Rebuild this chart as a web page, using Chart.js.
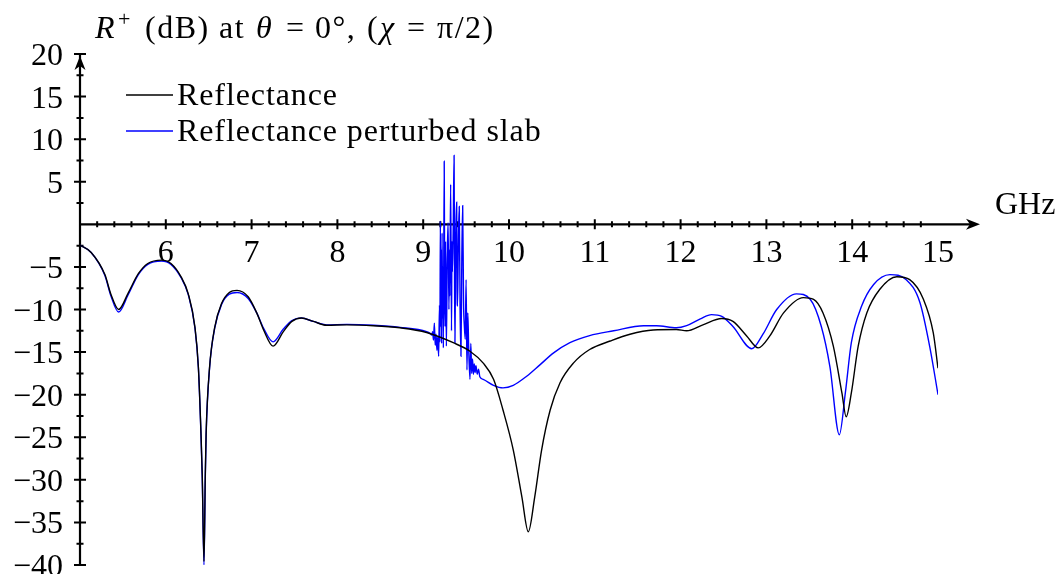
<!DOCTYPE html>
<html>
<head>
<meta charset="utf-8">
<script src="https://cdn.jsdelivr.net/npm/chart.js@4.4.1/dist/chart.umd.min.js"></script>
<style>
  html, body { margin: 0; padding: 0; background: #fff; }
  #wrap { width: 1056px; height: 574px; }
</style>
</head>
<body>
<div id="wrap"><canvas id="my_chart" width="1056" height="574"></canvas></div>
<script>
// Reflectance (black)
var reflFreq = [
  5.00, 5.13, 5.29, 5.36, 5.45, 5.56, 5.68, 5.79, 5.95, 6.06,
  6.18, 6.26, 6.34, 6.38, 6.41, 6.425, 6.445, 6.46, 6.47, 6.51,
  6.57, 6.65, 6.74, 6.83, 6.96, 7.06, 7.14, 7.25, 7.37, 7.47,
  7.58, 7.72, 7.875, 8.11, 8.42, 8.73, 9.04, 9.35, 9.545, 9.70,
  9.82, 9.93, 10.05, 10.15, 10.225, 10.30, 10.38, 10.48, 10.595, 10.75,
  10.94, 11.18, 11.41, 11.68, 11.95, 12.07, 12.26, 12.48, 12.61, 12.77,
  12.905, 13.04, 13.20, 13.43, 13.55, 13.66, 13.78, 13.88, 13.93, 13.99,
  14.07, 14.17, 14.32, 14.52, 14.67, 14.83, 14.945, 15.00
];
var reflDb = [
  -2.45, -3.3, -5.9, -8.2, -10.0, -8.1, -5.8, -4.6, -4.2, -4.6,
  -6.2, -8.1, -12.1, -16.8, -24.5, -29.5, -39.6, -29.5, -24.5, -16.8,
  -12.1, -9.3, -8.0, -7.75, -8.5, -10.4, -12.4, -14.3, -12.6, -11.4,
  -11.0, -11.4, -11.85, -11.8, -11.9, -12.15, -12.7, -13.9, -14.9, -16.3,
  -18.2, -21.8, -26.5, -32, -36.1, -32, -26.5, -21.8, -18.6, -16.3,
  -14.7, -13.7, -12.9, -12.4, -12.35, -12.5, -11.8, -11.06, -11.4, -13.1,
  -14.5, -13.1, -10.4, -8.6, -8.8, -10.4, -14.3, -19.8, -22.6, -19.8,
  -14.3, -10.4, -7.65, -6.15, -6.5, -8.8, -12.75, -16.9
];

// Reflectance perturbed slab (blue)
var pertFreq = [
  5.00, 5.13, 5.29, 5.36, 5.45, 5.56, 5.68, 5.79, 5.95, 6.06,
  6.18, 6.26, 6.34, 6.38, 6.41, 6.425, 6.445, 6.46, 6.47, 6.51,
  6.57, 6.65, 6.74, 6.83, 6.96, 7.06, 7.14, 7.25, 7.37, 7.47,
  7.58, 7.72, 7.875, 8.11, 8.42, 8.73, 9.04,
  9.08, 9.10, 9.11, 9.12, 9.13, 9.14, 9.15, 9.16, 9.17, 9.18,
  9.19, 9.195, 9.20, 9.205, 9.21, 9.215, 9.22, 9.225, 9.23, 9.235,
  9.245, 9.25, 9.255, 9.26, 9.27, 9.28, 9.29, 9.30, 9.305, 9.31,
  9.32, 9.33, 9.335, 9.34, 9.35, 9.36, 9.365, 9.37, 9.38, 9.39,
  9.395, 9.40, 9.41, 9.42, 9.43, 9.44, 9.45, 9.46, 9.47, 9.48,
  9.49, 9.50, 9.51, 9.52, 9.53, 9.545, 9.555, 9.565, 9.575, 9.585,
  9.595, 9.605, 9.615, 9.63, 9.645, 9.66, 9.70,
  9.82, 9.93, 10.05, 10.21, 10.36, 10.52, 10.71, 10.94, 11.22, 11.57,
  11.72, 11.95, 12.07, 12.23, 12.36, 12.48, 12.61, 12.83, 12.96, 13.12,
  13.35, 13.51, 13.64, 13.74, 13.85, 13.92, 13.99, 14.11, 14.25, 14.44,
  14.63, 14.79, 14.91, 15.00
];
var pertDb = [
  -2.45, -3.3, -6.0, -8.4, -10.3, -8.3, -5.9, -4.7, -4.3, -4.7,
  -6.3, -8.2, -12.2, -16.9, -24.7, -29.8, -40, -29.8, -24.7, -16.9,
  -12.2, -9.4, -8.2, -8.0, -8.7, -10.4, -12.2, -13.8, -12.3, -11.3,
  -11.0, -11.4, -11.8, -11.75, -11.85, -12.1, -12.6,
  -12.8, -13.0, -12.6, -13.6, -11.6, -14.2, -12.9, -14.8, -13.2, -15.5,
  -9.5, -13.8, 0.4, -12.0, -3.0, -14.0, -1.0, -11.0, -5.0, -14.5,
  7.4, -8.0, -12.0, -2.0, -14.3, -4.0, 0.2, -10.0, -3.0, -8.4,
  4.7, -12.5, -2.0, -5.6, -0.5, 8.1, -6.0, -13.9, -1.0, 2.6,
  -8.0, -9.6, -2.0, 2.1, -10.0, -15.5, -4.0, 2.2, -9.0, -12.0,
  -13.5, -6.5, -17.1, -10.4, -14.5, -18.2, -14.0, -17.5, -15.8, -17.6,
  -16.4, -17.4, -16.6, -17.6, -17.0, -17.9, -18.2,
  -18.9, -19.2, -18.9, -17.8, -16.5, -15.1, -13.9, -13.06, -12.5, -11.9,
  -11.9, -12.15, -11.9, -11.1, -10.6, -10.8, -12.0, -14.6, -12.9, -10.0,
  -8.16, -8.8, -12.0, -16.7, -24.7, -19.8, -13.9, -9.6, -7.06, -5.9,
  -6.5, -9.2, -14.7, -20.0
];

// ticks
var xMajorTicks = [6, 7, 8, 9, 10, 11, 12, 13, 14, 15];
var xTickLabels = ['6', '7', '8', '9', '10', '11', '12', '13', '14', '15'];
var yMajorTicks = [20, 15, 10, 5, -5, -10, -15, -20, -25, -30, -35, -40];
var yTickLabels = ['20', '15', '10', '5', '\u22125', '\u221210', '\u221215', '\u221220', '\u221225', '\u221230', '\u221235', '\u221240'];
var legendLabels = ['Reflectance', 'Reflectance perturbed slab'];

var FONT = '"Liberation Serif", "DejaVu Serif", serif';

function toPoints(xs, ys) {
  var out = [];
  for (var i = 0; i < xs.length; i++) out.push({x: xs[i], y: ys[i]});
  return out;
}

// stealth arrow head, tip at (tx,ty), pointing dir (dx,dy)
function arrowHead(ctx, tx, ty, dx, dy) {
  var len = 14, half = 5.5, notch = 4;
  var px = -dy, py = dx;
  ctx.beginPath();
  ctx.moveTo(tx, ty);
  ctx.lineTo(tx - dx * len + px * half, ty - dy * len + py * half);
  ctx.lineTo(tx - dx * (len - notch), ty - dy * (len - notch));
  ctx.lineTo(tx - dx * len - px * half, ty - dy * len - py * half);
  ctx.closePath();
  ctx.fill();
}

var texAxes = {
  id: 'texAxes',
  beforeDatasetsDraw: function(chart) {
    var ctx = chart.ctx, xs = chart.scales.x, ys = chart.scales.y;
    var x0 = xs.getPixelForValue(5), y0 = ys.getPixelForValue(0);
    var yTop = ys.getPixelForValue(20), yBot = ys.getPixelForValue(-40);
    var xEnd = xs.getPixelForValue(15) + 42;
    var i, v, p;
    ctx.save();
    ctx.strokeStyle = '#000';
    ctx.fillStyle = '#000';
    ctx.lineWidth = 2.2;

    // axes lines
    ctx.beginPath();
    ctx.moveTo(x0, y0); ctx.lineTo(xEnd - 6, y0);
    ctx.moveTo(x0, yBot); ctx.lineTo(x0, yTop);
    ctx.stroke();
    arrowHead(ctx, xEnd, y0, 1, 0);
    arrowHead(ctx, x0, yTop + 2, 0, -1);

    // x ticks
    ctx.lineWidth = 2;
    ctx.beginPath();
    for (i = 1; i < 50; i++) {
      v = 5 + i * 0.2;
      p = xs.getPixelForValue(v);
      var major = (i % 5 === 0);
      var h = major ? 5 : 3;
      ctx.moveTo(p, y0 - h); ctx.lineTo(p, y0 + h);
    }
    // y ticks
    for (v = -40; v <= 20; v += 2.5) {
      if (v === 0) continue;
      p = ys.getPixelForValue(v);
      var w = (v % 5 === 0) ? 6 : 3.5;
      ctx.moveTo(x0 - w, p); ctx.lineTo(x0 + w, p);
    }
    ctx.stroke();

    // tick labels
    ctx.font = '32px ' + FONT;
    ctx.textAlign = 'center';
    ctx.textBaseline = 'alphabetic';
    for (i = 0; i < xMajorTicks.length; i++) {
      ctx.fillText(xTickLabels[i], xs.getPixelForValue(xMajorTicks[i]), y0 + 38);
    }
    ctx.textAlign = 'right';
    for (i = 0; i < yMajorTicks.length; i++) {
      ctx.fillText(yTickLabels[i], x0 - 17, ys.getPixelForValue(yMajorTicks[i]) + 11);
    }
    ctx.textAlign = 'left';
    ctx.fillText('GHz', xEnd + 15, y0 - 10);
    ctx.restore();
  },
  afterDraw: function(chart) {
    var ctx = chart.ctx;
    ctx.save();
    ctx.fillStyle = '#000';
    ctx.textBaseline = 'alphabetic';
    ctx.textAlign = 'left';

    // title, laid out with TeX-like math spacing
    var up = '32px ' + FONT, it = 'italic 32px ' + FONT;
    var parts = [
      [it, 'R', 95, 0],
      ['22px ' + FONT, '+', 118, -12],
      [up, '(dB)', 145, 0],
      [up, 'at', 219, 0],
      [it, '\u03b8', 256, 0],
      [up, '=', 286, 0],
      [up, '0\u00b0,', 315, 0],
      [up, '(', 367, 0],
      [it, '\u03c7', 380, 0],
      [up, '=', 407, 0],
      [up, '\u03c0/2)', 437, 0]
    ];
    ctx.letterSpacing = '1.5px';
    for (var i = 0; i < parts.length; i++) {
      ctx.font = parts[i][0];
      ctx.fillText(parts[i][1], parts[i][2], 38 + parts[i][3]);
    }

    // legend
    var colors = ['#000000', '#0000ff'];
    var rows = [95, 131];
    ctx.font = '32px ' + FONT;
    ctx.letterSpacing = '0.9px';
    for (var j = 0; j < legendLabels.length; j++) {
      ctx.strokeStyle = colors[j];
      ctx.lineWidth = 1.4;
      ctx.beginPath();
      ctx.moveTo(126, rows[j]); ctx.lineTo(173, rows[j]);
      ctx.stroke();
      ctx.fillText(legendLabels[j], 177, rows[j] + 10);
    }
    ctx.restore();
  }
};

var config = {
  type: 'line',
  data: {
    datasets: [
      {
        label: legendLabels[0],
        data: toPoints(reflFreq, reflDb),
        borderColor: '#000000',
        borderWidth: 1.4,
        pointRadius: 0,
        cubicInterpolationMode: 'monotone',
        fill: false
      },
      {
        label: legendLabels[1],
        data: toPoints(pertFreq, pertDb),
        borderColor: '#0000ff',
        borderWidth: 1.4,
        pointRadius: 0,
        cubicInterpolationMode: 'monotone',
        fill: false
      }
    ]
  },
  options: {
    responsive: false,
    animation: false,
    devicePixelRatio: 1,
    layout: { padding: { left: 80, right: 118, top: 54, bottom: 9 } },
    plugins: { legend: { display: false }, tooltip: { enabled: false }, title: { display: false } },
    scales: {
      x: { type: 'linear', min: 5, max: 15, display: false },
      y: { type: 'linear', min: -40, max: 20, display: false }
    }
  },
  plugins: [texAxes]
};

var ctx = document.getElementById('my_chart').getContext('2d');
var myChart = new Chart(ctx, config);
</script>
</body>
</html>
